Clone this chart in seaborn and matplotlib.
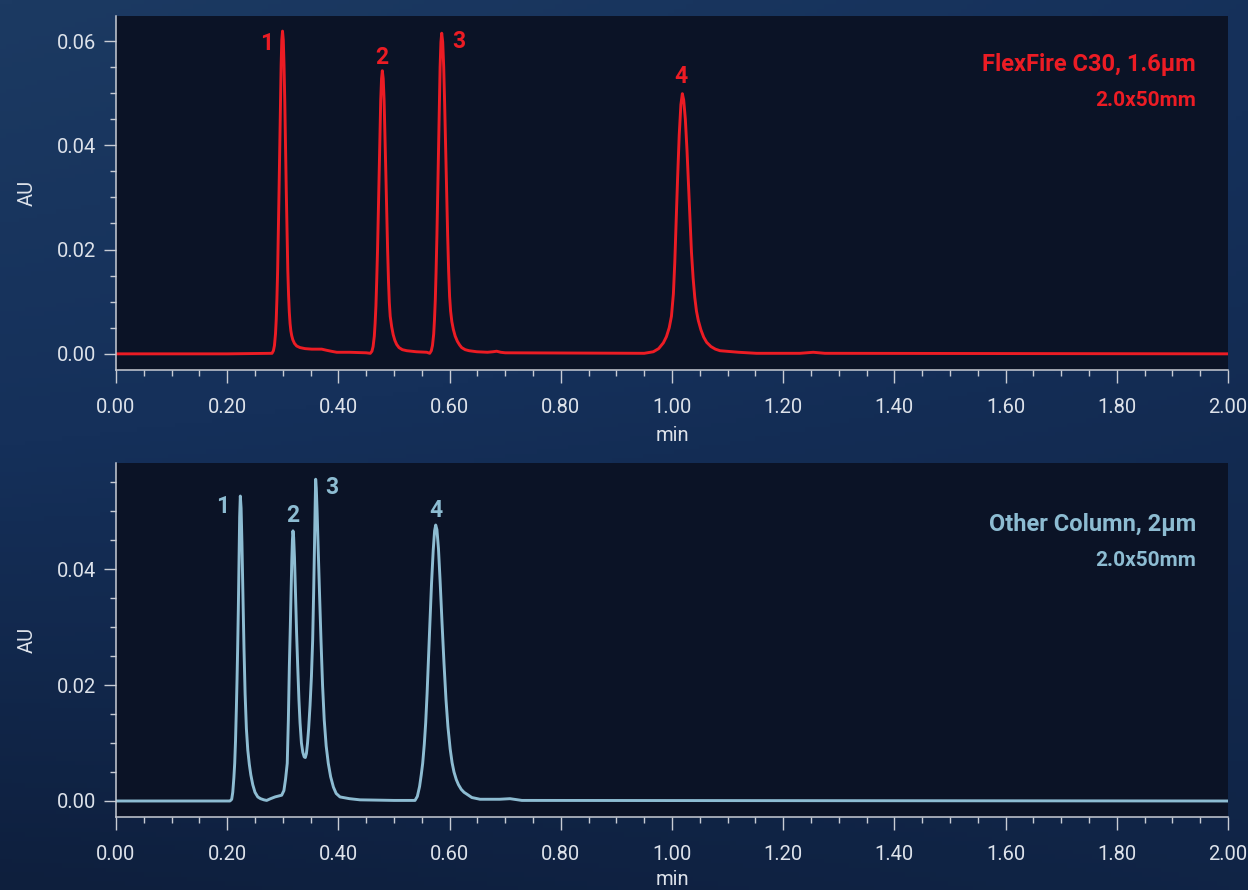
import numpy as np
import pandas as pd
import matplotlib
matplotlib.use("Agg")
import matplotlib.pyplot as plt
import seaborn as sns
from matplotlib.ticker import MultipleLocator, FormatStrFormatter
from matplotlib.colors import LinearSegmentedColormap

sns.set_style("dark")
plt.rcParams['font.family'] = ['Roboto', 'DejaVu Sans']

# ---------------- data ----------------
flex_time = [
    0.000, 0.200, 0.2806, 0.2831, 0.2850, 0.2869, 0.2882, 0.2894, 0.2907, 0.2919, 0.2932, 0.2945,
    0.2957, 0.2970, 0.2982, 0.2995, 0.3009, 0.3022, 0.3036, 0.3049, 0.3063, 0.3077, 0.3090, 0.3104,
    0.3117, 0.3131, 0.3145, 0.3160, 0.3180, 0.3210, 0.3250, 0.3310, 0.3400, 0.3520, 0.3620, 0.3700,
    0.3780, 0.3870, 0.3970, 0.4200, 0.4500,
    0.4574, 0.4603, 0.4624, 0.4646, 0.4660, 0.4675, 0.4689, 0.4704, 0.4718, 0.4732, 0.4747, 0.4761,
    0.4776, 0.4790, 0.4806, 0.4822, 0.4837, 0.4853, 0.4869, 0.4885, 0.4901, 0.4916, 0.4932, 0.4958,
    0.4985, 0.5015, 0.5048, 0.5090, 0.5150, 0.5230, 0.5400, 0.5590,
    0.5642, 0.5671, 0.5692, 0.5714, 0.5728, 0.5743, 0.5757, 0.5772, 0.5786, 0.5800, 0.5815, 0.5829,
    0.5844, 0.5858, 0.5876, 0.5894, 0.5911, 0.5929, 0.5947, 0.5965, 0.5983, 0.6000, 0.6018, 0.6040,
    0.6067, 0.6100, 0.6140, 0.6180, 0.6217, 0.6280, 0.6350, 0.6490, 0.6680, 0.6780, 0.6847, 0.6920,
    0.7000,
    0.9500, 0.9664, 0.9760, 0.9844, 0.9900, 0.9950, 0.9990, 1.0025, 1.0050, 1.0075, 1.0100, 1.0130,
    1.0160, 1.0186, 1.0210, 1.0240, 1.0270, 1.0300, 1.0324, 1.0350, 1.0380, 1.0410, 1.0440, 1.0473,
    1.0520, 1.0570, 1.0624, 1.0700, 1.0780, 1.0863, 1.1200, 1.1520, 1.2300, 1.2540, 1.2750, 2.0000]
flex_au = [
    0.0000, 0.0000, 0.0001, 0.0006, 0.0016, 0.0039, 0.0066, 0.0105, 0.0159, 0.0228, 0.0310, 0.0397,
    0.0482, 0.0554, 0.0602, 0.0619, 0.0602, 0.0554, 0.0482, 0.0397, 0.0310, 0.0230, 0.0160, 0.0112,
    0.0080, 0.0058, 0.0044, 0.0035, 0.0027, 0.0020, 0.0015, 0.0012, 0.0010, 0.0009, 0.0009, 0.0009,
    0.0007, 0.0005, 0.0003, 0.0003, 0.0002,
    0.0001, 0.0005, 0.0014, 0.0034, 0.0058, 0.0092, 0.0140, 0.0200, 0.0272, 0.0348, 0.0423, 0.0486,
    0.0528, 0.0543, 0.0528, 0.0486, 0.0423, 0.0348, 0.0272, 0.0200, 0.0140, 0.0098, 0.0072, 0.0052,
    0.0037, 0.0026, 0.0018, 0.0012, 0.0008, 0.0006, 0.0004, 0.0003,
    0.0001, 0.0006, 0.0016, 0.0038, 0.0065, 0.0104, 0.0158, 0.0227, 0.0308, 0.0395, 0.0479, 0.0550,
    0.0598, 0.0615, 0.0598, 0.0550, 0.0479, 0.0395, 0.0308, 0.0227, 0.0158, 0.0110, 0.0082, 0.0062,
    0.0047, 0.0034, 0.0024, 0.0017, 0.0012, 0.0008, 0.0006, 0.0004, 0.0003, 0.0004, 0.0005, 0.0003,
    0.0002,
    0.0001, 0.0004, 0.0010, 0.0021, 0.0033, 0.0050, 0.0072, 0.0115, 0.0175, 0.0255, 0.0335, 0.0420,
    0.0478, 0.0499, 0.0487, 0.0450, 0.0390, 0.0315, 0.0255, 0.0195, 0.0145, 0.0108, 0.0082, 0.0064,
    0.0046, 0.0032, 0.0022, 0.0014, 0.0009, 0.0006, 0.0003, 0.0001, 0.0001, 0.0003, 0.0001, 0.0000]

other_time = [
    0.0000, 0.2050, 0.2081, 0.2100, 0.2120, 0.2135, 0.2150, 0.2165, 0.2177, 0.2188, 0.2200, 0.2212,
    0.2224, 0.2236, 0.2250, 0.2265, 0.2283, 0.2302, 0.2322, 0.2345, 0.2370, 0.2398, 0.2425, 0.2460,
    0.2500, 0.2550, 0.2600, 0.2660, 0.2710, 0.2780, 0.2860, 0.2980, 0.3020, 0.3050,
    0.3080, 0.3100, 0.3118, 0.3135, 0.3150, 0.3162, 0.3173, 0.3183, 0.3195, 0.3210, 0.3228, 0.3248,
    0.3268, 0.3290, 0.3310, 0.3335, 0.3360, 0.3385, 0.3405, 0.3425, 0.3445, 0.3465, 0.3490, 0.3515,
    0.3537, 0.3555, 0.3570, 0.3582, 0.3591, 0.3602, 0.3617, 0.3635, 0.3660, 0.3687, 0.3715, 0.3745,
    0.3780, 0.3818, 0.3860, 0.3910, 0.3960, 0.4029, 0.4200, 0.4388, 0.5000,
    0.5378, 0.5420, 0.5460, 0.5490, 0.5516, 0.5545, 0.5570, 0.5595, 0.5617, 0.5645, 0.5675, 0.5705,
    0.5730, 0.5750, 0.5772, 0.5800, 0.5830, 0.5865, 0.5899, 0.5935, 0.5970, 0.6010, 0.6045, 0.6079,
    0.6120, 0.6160, 0.6210, 0.6260, 0.6307, 0.6400, 0.6547, 0.6900, 0.7086, 0.7300, 2.0000]
other_au = [
    0.0000, 0.0000, 0.0003, 0.0015, 0.0040, 0.0065, 0.0105, 0.0160, 0.0210, 0.0263, 0.0330, 0.0410,
    0.0490, 0.0526, 0.0505, 0.0445, 0.0355, 0.0263, 0.0185, 0.0125, 0.0088, 0.0063, 0.0045, 0.0028,
    0.0015, 0.0007, 0.0004, 0.0002, 0.0001, 0.0004, 0.0007, 0.0010, 0.0018, 0.0038,
    0.0065, 0.0140, 0.0233, 0.0300, 0.0365, 0.0415, 0.0450, 0.0466, 0.0455, 0.0420, 0.0360, 0.0290,
    0.0233, 0.0175, 0.0135, 0.0100, 0.0084, 0.0076, 0.0075, 0.0082, 0.0100, 0.0125, 0.0165, 0.0215,
    0.0277, 0.0360, 0.0440, 0.0510, 0.0555, 0.0540, 0.0500, 0.0440, 0.0360, 0.0277, 0.0200, 0.0140,
    0.0095, 0.0065, 0.0042, 0.0024, 0.0013, 0.0007, 0.0004, 0.0002, 0.0001,
    0.0001, 0.0008, 0.0025, 0.0045, 0.0065, 0.0098, 0.0135, 0.0185, 0.0238, 0.0305, 0.0375, 0.0432,
    0.0466, 0.0476, 0.0468, 0.0435, 0.0378, 0.0305, 0.0238, 0.0175, 0.0128, 0.0090, 0.0066, 0.0050,
    0.0037, 0.0028, 0.0020, 0.0015, 0.0012, 0.0006, 0.0003, 0.0003, 0.0004, 0.0001, 0.0000]

peak_names = ["1", "2", "3", "4"]
flex_peak_times = [0.2995, 0.4790, 0.5858, 1.0186]
other_peak_times = [0.2236, 0.3183, 0.3591, 0.5750]

flex_title = "FlexFire C30, 1.6µm"
other_title = "Other Column, 2µm"
dims_label = "2.0x50mm"
x_label = "min"
y_label = "AU"

# ---------------- styling ----------------
RED = "#ec1c24"
BLUE = "#8dbcd2"
SPINE = "#c8ccd4"
TXT = "#dde2ea"
FACE = "#0b1326"

W, H = 1248, 890
fig = plt.figure(figsize=(W / 100, H / 100), dpi=100)

# background gradient
bg = fig.add_axes([0, 0, 1, 1], zorder=-10)
yy, xx = np.mgrid[0:1:200j, 0:1:200j]
grad = 0.55 * (1 - yy) + 0.45 * (1 - xx) * (1 - yy) + 0.15 * xx * yy
cmap = LinearSegmentedColormap.from_list("bg", ["#0e1f3d", "#15305a", "#1c3a62"])
bg.imshow(grad, cmap=cmap, aspect="auto", extent=[0, 1, 0, 1], origin="upper")
bg.set_axis_off()


def px_rect(left, top, right, bottom):
    return [left / W, 1 - bottom / H, (right - left) / W, (bottom - top) / H]


def style_axes(ax, ylo, yhi, xlabelpad):
    ax.set_facecolor(FACE)
    ax.set_xlim(0, 2.0)
    ax.set_ylim(ylo, yhi)
    for s in ["top", "right"]:
        ax.spines[s].set_visible(False)
    for s in ["left", "bottom"]:
        ax.spines[s].set_visible(True)
        ax.spines[s].set_color(SPINE)
        ax.spines[s].set_linewidth(1.1)
    ax.xaxis.set_major_locator(MultipleLocator(0.2))
    ax.xaxis.set_minor_locator(MultipleLocator(0.05))
    ax.yaxis.set_major_locator(MultipleLocator(0.02))
    ax.yaxis.set_minor_locator(MultipleLocator(0.005))
    ax.xaxis.set_major_formatter(FormatStrFormatter("%.2f"))
    ax.yaxis.set_major_formatter(FormatStrFormatter("%.2f"))
    ax.tick_params(which="major", direction="out", length=9, width=1.0, color=SPINE,
                   labelcolor=TXT, labelsize=14.5)
    ax.tick_params(which="minor", direction="out", length=4.5, width=1.0, color=SPINE)
    ax.tick_params(axis="x", which="major", pad=11)
    ax.tick_params(axis="y", which="major", pad=5)
    ax.tick_params(left=True, bottom=True, which="both")
    ax.grid(False)
    ax.set_xlabel(x_label, color=TXT, fontsize=14.5, labelpad=xlabelpad)
    ax.set_ylabel(y_label, color=TXT, fontsize=14.5, labelpad=15)


ax1 = fig.add_axes(px_rect(116, 16, 1228, 370))
ax2 = fig.add_axes(px_rect(116, 463, 1228, 817))

df1 = pd.DataFrame({"time": flex_time, "au": flex_au})
df2 = pd.DataFrame({"time": other_time, "au": other_au})

sns.lineplot(data=df1, x="time", y="au", ax=ax1, color=RED, linewidth=2.1, sort=False,
             solid_joinstyle="round", solid_capstyle="round")
sns.lineplot(data=df2, x="time", y="au", ax=ax2, color=BLUE, linewidth=2.1, sort=False,
             solid_joinstyle="round", solid_capstyle="round")

style_axes(ax1, -0.0031, 0.0648, 6.5)
style_axes(ax2, -0.00276, 0.0583, 4.5)

flex_offsets = [(-16, -12), (-1, 13), (17, -8), (-1, 17)]
other_offsets = [(-18, -10), (0, 15), (16, -8), (0, 15)]


def label_peaks(ax, times, df, offsets, color):
    for name, t, off in zip(peak_names, times, offsets):
        h = df.loc[(df["time"] - t).abs().idxmin(), "au"]
        ax.annotate(name, xy=(t, h), xytext=off, textcoords="offset pixels",
                    ha="center", va="center", color=color, fontsize=16.5,
                    fontweight="bold")


label_peaks(ax1, flex_peak_times, df1, flex_offsets, RED)
label_peaks(ax2, other_peak_times, df2, other_offsets, BLUE)


def column_text(ax, title, color, y_title_px, y_dims_px, top_px):
    trans = ax.transAxes
    hpx = 354.0
    ax.text((1196 - 116) / 1112, 1 - (y_title_px - top_px) / hpx, title, transform=trans,
            ha="right", va="center", color=color, fontsize=17, fontweight="bold")
    ax.text((1196 - 116) / 1112, 1 - (y_dims_px - top_px) / hpx, dims_label, transform=trans,
            ha="right", va="center", color=color, fontsize=15, fontweight="bold")


column_text(ax1, flex_title, RED, 64, 100, 16)
column_text(ax2, other_title, BLUE, 525, 561, 463)

fig.savefig("out.png", dpi=100, facecolor=fig.get_facecolor())
